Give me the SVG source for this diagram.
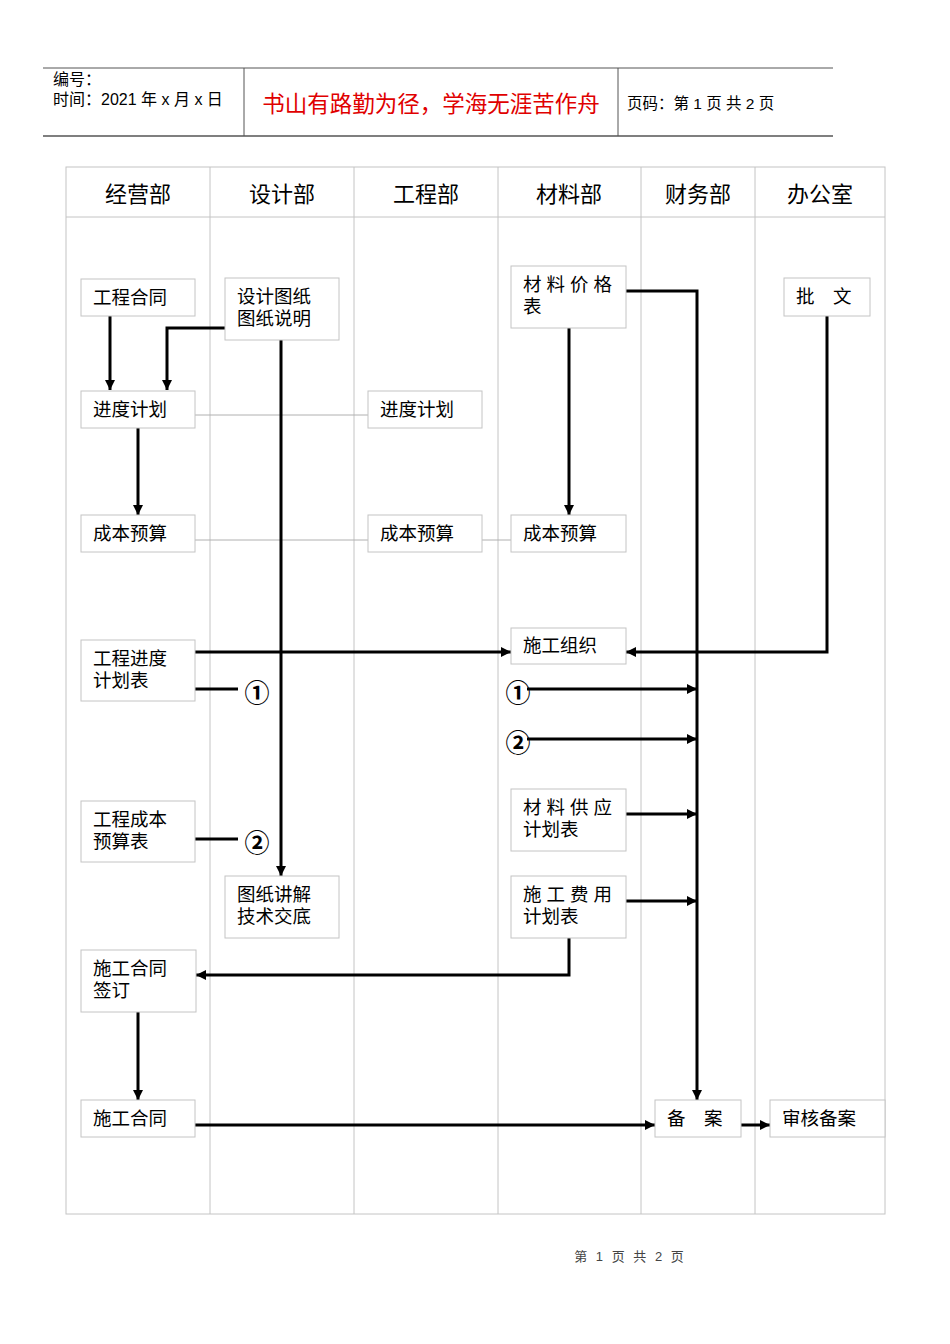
<svg xmlns="http://www.w3.org/2000/svg" width="950" height="1344" viewBox="0 0 950 1344">
<defs>
<marker id="ah" viewBox="0 0 10 10" refX="10" refY="5" markerWidth="10" markerHeight="10" markerUnits="userSpaceOnUse" orient="auto">
<path d="M0,0 L10,5 L0,10 z" fill="#000"/>
</marker>
<style>
text{font-family:"Liberation Sans","Noto Sans CJK SC",sans-serif;fill:#000}
.hd{font-size:16px}
.col{font-size:22px;text-anchor:middle}
.nt{font-size:18.5px}
.box{fill:#fff;stroke:#c4c4c4;stroke-width:1}
.grid{stroke:#c4c4c4;stroke-width:1;fill:none}
.thin{stroke:#b0b0b0;stroke-width:1;fill:none}
.c{stroke:#000;stroke-width:3;fill:none}
.ca{stroke:#000;stroke-width:3;fill:none;marker-end:url(#ah)}
.circ{font-size:25px;font-weight:bold;text-anchor:middle;font-family:"Noto Sans CJK SC",sans-serif}
</style>
</defs>
<rect width="950" height="1344" fill="#fff"/>
<g id="header">
<line x1="43" y1="68" x2="833" y2="68" stroke="#555" stroke-width="1"/>
<line x1="43" y1="136" x2="833" y2="136" stroke="#555" stroke-width="1.5"/>
<line x1="244" y1="68" x2="244" y2="136" stroke="#555" stroke-width="1"/>
<line x1="618" y1="68" x2="618" y2="136" stroke="#555" stroke-width="1"/>
<text class="hd" x="53" y="85">编号：</text>
<text class="hd" x="53" y="105">时间：2021 年 x 月 x 日</text>
<text x="431" y="112" style="font-size:22.5px;text-anchor:middle;fill:#e00000">书山有路勤为径，学海无涯苦作舟</text>
<text x="627" y="109" style="font-size:15.5px">页码：第 1 页  共 2 页</text>
</g>
<g id="table">
<rect class="grid" x="66" y="167" width="819" height="1047" stroke="#a8a8a8"/>
<line class="grid" x1="66" y1="217" x2="885" y2="217"/>
<line class="grid" x1="210" y1="167" x2="210" y2="1214"/>
<line class="grid" x1="354" y1="167" x2="354" y2="1214"/>
<line class="grid" x1="498" y1="167" x2="498" y2="1214"/>
<line class="grid" x1="641" y1="167" x2="641" y2="1214"/>
<line class="grid" x1="755" y1="167" x2="755" y2="1214"/>
<text class="col" x="138" y="202">经营部</text>
<text class="col" x="282" y="202">设计部</text>
<text class="col" x="426" y="202">工程部</text>
<text class="col" x="569" y="202">材料部</text>
<text class="col" x="698" y="202">财务部</text>
<text class="col" x="820" y="202">办公室</text>
</g>
<g id="connectors">
<line class="thin" x1="195" y1="415" x2="368" y2="415"/>
<line class="thin" x1="195" y1="540" x2="368" y2="540"/>
<line class="thin" x1="482" y1="540" x2="511" y2="540"/>
<line class="ca" x1="110" y1="316" x2="110" y2="390"/>
<polyline class="ca" points="225,328 167,328 167,390"/>
<line class="ca" x1="138" y1="428" x2="138" y2="515"/>
<line class="ca" x1="281" y1="340" x2="281" y2="876"/>
<polyline class="ca" points="626,291 697,291 697,1100"/>
<line class="ca" x1="569" y1="328" x2="569" y2="515"/>
<polyline class="ca" points="827,316 827,652 626,652"/>
<line class="ca" x1="195" y1="652" x2="511" y2="652"/>
<line class="c" x1="195" y1="689" x2="238" y2="689"/>
<line class="ca" x1="527" y1="689" x2="697" y2="689"/>
<line class="ca" x1="527" y1="739" x2="697" y2="739"/>
<line class="c" x1="195" y1="839" x2="238" y2="839"/>
<line class="ca" x1="626" y1="814" x2="697" y2="814"/>
<line class="ca" x1="626" y1="901" x2="697" y2="901"/>
<polyline class="ca" points="569,938 569,975 196,975"/>
<line class="ca" x1="138" y1="1012" x2="138" y2="1100"/>
<line class="ca" x1="195" y1="1125" x2="655" y2="1125"/>
<line class="ca" x1="741" y1="1125" x2="770" y2="1125"/>
<text class="circ" x="257" y="702">①</text>
<text class="circ" x="257" y="852">②</text>
<text class="circ" x="518" y="702">①</text>
<text class="circ" x="518" y="752">②</text>
</g>
<g id="n_gchet"><rect class="box" x="81" y="279" width="114" height="37"/><text class="nt" x="93" y="304">工程合同</text></g>
<g id="n_sjtz"><rect class="box" x="225" y="278" width="114" height="62"/><text class="nt" x="237" y="303">设计图纸</text><text class="nt" x="237" y="325">图纸说明</text></g>
<g id="n_cljgb"><rect class="box" x="511" y="266" width="115" height="62"/><text class="nt" x="523" y="291" letter-spacing="5">材料价格</text><text class="nt" x="523" y="313">表</text></g>
<g id="n_piwen"><rect class="box" x="784" y="278" width="86" height="38"/><text class="nt" x="796" y="303">批　文</text></g>
<g id="n_jdjh1"><rect class="box" x="81" y="391" width="114" height="37"/><text class="nt" x="93" y="416">进度计划</text></g>
<g id="n_jdjh2"><rect class="box" x="368" y="391" width="114" height="37"/><text class="nt" x="380" y="416">进度计划</text></g>
<g id="n_cbys1"><rect class="box" x="81" y="515" width="114" height="37"/><text class="nt" x="93" y="540">成本预算</text></g>
<g id="n_cbys2"><rect class="box" x="368" y="515" width="114" height="37"/><text class="nt" x="380" y="540">成本预算</text></g>
<g id="n_cbys3"><rect class="box" x="511" y="515" width="115" height="37"/><text class="nt" x="523" y="540">成本预算</text></g>
<g id="n_sgzz"><rect class="box" x="511" y="628" width="115" height="36"/><text class="nt" x="523" y="652">施工组织</text></g>
<g id="n_gcjdjhb"><rect class="box" x="81" y="640" width="114" height="61"/><text class="nt" x="93" y="665">工程进度</text><text class="nt" x="93" y="687">计划表</text></g>
<g id="n_gccbysb"><rect class="box" x="81" y="801" width="114" height="61"/><text class="nt" x="93" y="826">工程成本</text><text class="nt" x="93" y="848">预算表</text></g>
<g id="n_tzjj"><rect class="box" x="225" y="876" width="114" height="62"/><text class="nt" x="237" y="901">图纸讲解</text><text class="nt" x="237" y="923">技术交底</text></g>
<g id="n_clgy"><rect class="box" x="511" y="789" width="115" height="62"/><text class="nt" x="523" y="814" letter-spacing="5">材料供应</text><text class="nt" x="523" y="836">计划表</text></g>
<g id="n_sgfy"><rect class="box" x="511" y="876" width="115" height="62"/><text class="nt" x="523" y="901" letter-spacing="5">施工费用</text><text class="nt" x="523" y="923">计划表</text></g>
<g id="n_sghtqd"><rect class="box" x="81" y="950" width="115" height="62"/><text class="nt" x="93" y="975">施工合同</text><text class="nt" x="93" y="997">签订</text></g>
<g id="n_sght"><rect class="box" x="81" y="1100" width="114" height="37"/><text class="nt" x="93" y="1125">施工合同</text></g>
<g id="n_beian"><rect class="box" x="655" y="1100" width="86" height="37"/><text class="nt" x="667" y="1125">备　案</text></g>
<g id="n_shba"><rect class="box" x="770" y="1100" width="115" height="37"/><text class="nt" x="782" y="1125">审核备案</text></g>
<g id="footer"><text x="629" y="1261" style="font-size:13px;text-anchor:middle;fill:#444;word-spacing:5px">第 1 页 共 2 页</text></g>
</svg>
